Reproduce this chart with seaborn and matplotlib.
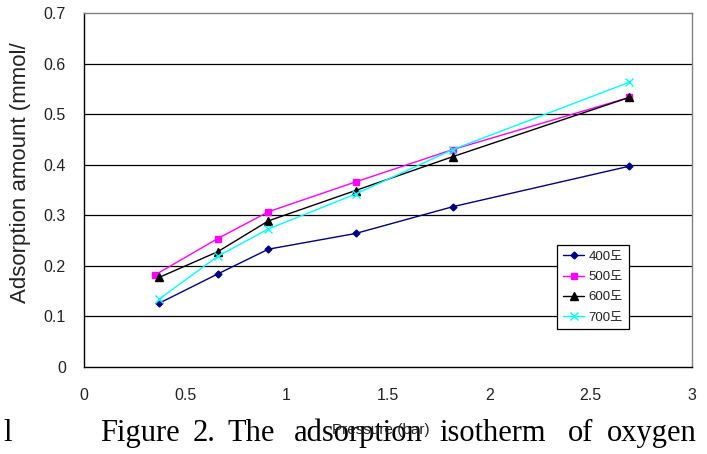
import matplotlib
matplotlib.use("Agg")
import matplotlib.pyplot as plt
import seaborn as sns
import pandas as pd

# ---- data ----
series_labels = ["400도", "500도", "600도", "700도"]
pressure_400 = [0.37, 0.66, 0.91, 1.34, 1.82, 2.69]
pressure_500 = [0.35, 0.66, 0.91, 1.34, 1.82, 2.69]
pressure_600 = [0.37, 0.66, 0.91, 1.34, 1.82, 2.69]
pressure_700 = [0.37, 0.66, 0.91, 1.34, 1.82, 2.69]
amount_400 = [0.126, 0.184, 0.233, 0.264, 0.317, 0.397]
amount_500 = [0.182, 0.254, 0.307, 0.366, 0.430, 0.533]
amount_600 = [0.177, 0.228, 0.289, 0.349, 0.416, 0.533]
amount_700 = [0.134, 0.219, 0.273, 0.342, 0.430, 0.563]
x_ticks = [0, 0.5, 1, 1.5, 2, 2.5, 3]
x_tick_labels = ["0", "0.5", "1", "1.5", "2", "2.5", "3"]
y_ticks = [0, 0.1, 0.2, 0.3, 0.4, 0.5, 0.6, 0.7]
y_tick_labels = ["0", "0.1", "0.2", "0.3", "0.4", "0.5", "0.6", "0.7"]
caption_words = ["Figure", "2.", "The", "adsorption", "isotherm", "of", "oxygen"]

pressures = [pressure_400, pressure_500, pressure_600, pressure_700]
amounts = [amount_400, amount_500, amount_600, amount_700]
rows = []
for lab, xs, ys in zip(series_labels, pressures, amounts):
    for xv, yv in zip(xs, ys):
        rows.append({"Pressure": xv, "Amount": yv, "Series": lab})
df = pd.DataFrame(rows)

sns.set_style("white")
plt.rcParams["font.family"] = ["Liberation Sans", "Noto Sans CJK KR", "DejaVu Sans"]

fig = plt.figure(figsize=(7.07, 4.54), dpi=100)
ax = fig.add_axes([84 / 707, 1 - 367 / 454, (692 - 84) / 707, (367 - 13) / 454])

palette = {"400도": "#000080", "500도": "#FF00FF", "600도": "#000000", "700도": "#00FFFF"}
markers = {"400도": "D", "500도": "s", "600도": "^", "700도": "x"}
sizes_m = {"400도": 3.5, "500도": 5, "600도": 5.5, "700도": 5.5}

for lab in series_labels:
    sub = df[df["Series"] == lab]
    sns.lineplot(data=sub, x="Pressure", y="Amount", color=palette[lab],
                 marker=markers[lab], markersize=sizes_m[lab],
                 markeredgecolor=palette[lab], markeredgewidth=1.0,
                 linewidth=1.0, label=lab, ax=ax, zorder=3)

ax.set_xlim(0, 3)
ax.set_ylim(0, 0.7)
ax.set_xticks(x_ticks)
ax.set_xticklabels(x_tick_labels)
ax.set_yticks(y_ticks)
ax.set_yticklabels(y_tick_labels)
ax.tick_params(axis="x", direction="in", length=3, width=0.8, color="#404040",
               pad=15, labelsize=11.5, labelcolor="#222222")
ax.tick_params(axis="y", length=0, pad=13, labelsize=11.5, labelcolor="#222222")

for yv in y_ticks[1:-1]:
    ax.axhline(yv, color="black", linewidth=0.9, zorder=1)

for side in ["left", "bottom"]:
    ax.spines[side].set_color("black")
    ax.spines[side].set_linewidth(1.0)
for side in ["top", "right"]:
    ax.spines[side].set_color("#808080")
    ax.spines[side].set_linewidth(1.0)

ax.set_xlabel("")
ax.set_ylabel("Adsorption amount (mmol/", fontsize=16, color="#222222")
ax.yaxis.label.set_va("center")
ax.yaxis.set_label_coords(-0.104, 0.55)

leg = ax.legend(loc="upper left", bbox_to_anchor=(0.778, 0.345), borderaxespad=0,
                fontsize=9.5, frameon=True, fancybox=False, framealpha=1,
                edgecolor="black", handlelength=1.6, handletextpad=0.35,
                labelspacing=0.6, borderpad=0.45)
leg.get_frame().set_linewidth(0.9)
for t in leg.get_texts():
    t.set_color("#222222")

# caption words (placed at their positions in the source page)
caption_x = [100, 193, 228, 294, 439, 568, 607]
for w, xp in zip(caption_words, caption_x):
    fig.text(xp / 707, 1 - 441 / 454, w, ha="left", va="baseline", fontsize=22,
             family="Liberation Serif", color="black")
fig.text(3 / 707, 1 - 441 / 454, "l", ha="left", va="baseline", fontsize=22,
         family="Liberation Serif", color="black")

# x label overlapping caption as in the source
fig.text(381 / 707, 1 - 430 / 454, "Pressure (bar)", ha="center", va="center",
         fontsize=11, color="#222222", zorder=5)

fig.savefig("out.png", dpi=100)
